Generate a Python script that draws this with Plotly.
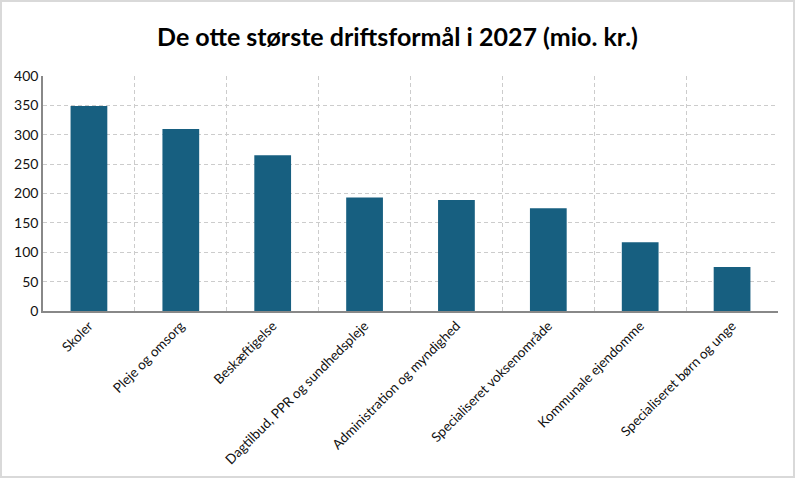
import plotly.graph_objects as go

# driftsformål og budget 2027 (mio. kr.)
kategorier = [
    "Skoler",
    "Pleje og omsorg",
    "Beskæftigelse",
    "Dagtilbud, PPR og sundhedspleje",
    "Administration og myndighed",
    "Specialiseret voksenområde",
    "Kommunale ejendomme",
    "Specialiseret børn og unge",
]
beloeb = [349, 310, 265, 193, 189, 175, 117, 75]
y_ticks = [0, 50, 100, 150, 200, 250, 300, 350, 400]

fig = go.Figure()

fig.add_trace(go.Bar(
    x=kategorier,
    y=beloeb,
    marker=dict(color="#175f80", line=dict(width=0)),
    width=0.4,
))

fig.update_layout(
    width=795,
    height=478,
    paper_bgcolor="white",
    plot_bgcolor="white",
    font=dict(family="Lato", size=14, color="#222"),
    title=dict(
        text="<b>De otte største driftsformål i 2027 (mio. kr.)</b>",
        x=0.5, xanchor="center",
        y=0.923, yanchor="middle",
        font=dict(family="Lato", size=25, color="black"),
    ),
    margin=dict(l=43, r=17, t=76, b=167),
    showlegend=False,
    shapes=[dict(  # ramme rundt om hele figuren
        type="rect", xref="paper", yref="paper",
        x0=-42 / 735, x1=1 + 16 / 735, y0=-166 / 235, y1=1 + 75 / 235,
        line=dict(color="#d9d9d9", width=2),
    )],
)

fig.update_xaxes(
    tickangle=-45,
    tickson="boundaries",
    ticks="",
    automargin=False,
    showgrid=True,
    gridcolor="#cccccc",
    griddash="4px,3px",
    showline=True,
    linecolor="#888",
    linewidth=1.5,
    tickfont=dict(size=13.5, color="#111"),
)
fig.update_yaxes(
    range=[0, 400],
    tickvals=y_ticks,
    automargin=False,
    showgrid=True,
    gridcolor="#cccccc",
    griddash="4px,3px",
    zeroline=False,
    showline=True,
    linecolor="#888",
    linewidth=1.5,
    tickfont=dict(size=14, color="#111"),
)

# fjern sidens standardmargen så figuren starter i hjørnet
fig.write_html(
    "out.html",
    config={"displayModeBar": False},
    post_script="document.body.style.margin='0';",
)
